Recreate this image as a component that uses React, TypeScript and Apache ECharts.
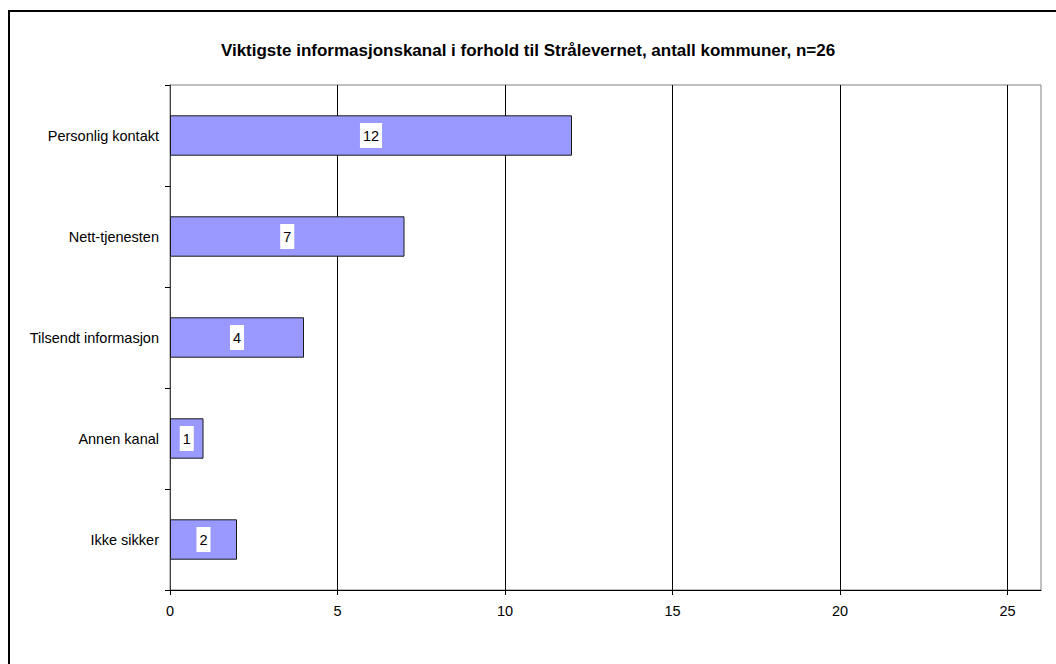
import React, { useEffect, useRef } from "react";
import * as echarts from "echarts";

const titleText = "Viktigste informasjonskanal i forhold til Strålevernet, antall kommuner, n=26";
const categories = ["Personlig kontakt", "Nett-tjenesten", "Tilsendt informasjon", "Annen kanal", "Ikke sikker"];
const values = [12, 7, 4, 1, 2];
const xTicks = [0, 5, 10, 15, 20, 25];

const FONT = "'Liberation Sans', Arial, sans-serif";

export default function App() {
  const ref = useRef<HTMLDivElement>(null);
  useEffect(() => {
    if (!ref.current) return;
    const chart = echarts.init(ref.current, undefined, { renderer: "svg" });
    chart.setOption({
      animation: false,
      backgroundColor: "#ffffff",
      textStyle: { fontFamily: FONT },
      title: {
        text: titleText,
        left: "center",
        top: 36,
        textStyle: { fontFamily: FONT, fontSize: 17, fontWeight: "bold", color: "#000", lineHeight: 18 },
      },
      graphic: [
        { type: "line", shape: { x1: 9, y1: 11, x2: 1060, y2: 11 }, style: { stroke: "#000", lineWidth: 2 } },
        { type: "line", shape: { x1: 9, y1: 10, x2: 9, y2: 670 }, style: { stroke: "#000", lineWidth: 2 } },
      ],
      grid: {
        left: 170,
        right: 15,
        top: 85,
        bottom: 74,
        show: true,
        borderColor: "#808080",
        borderWidth: 1,
        containLabel: false,
      },
      xAxis: {
        type: "value",
        min: 0,
        max: 26,
        interval: 5,
        axisLine: { show: true, lineStyle: { color: "#000", width: 1 } },
        axisTick: { show: true, length: 5, lineStyle: { color: "#000" }, customValues: xTicks },
        axisLabel: {
          color: "#000",
          fontSize: 14.5,
          fontFamily: FONT,
          margin: 13,
          customValues: xTicks,
        },
        splitLine: { show: true, showMinLine: false, lineStyle: { color: "#000", width: 1 } },
      },
      yAxis: {
        type: "category",
        data: categories,
        inverse: true,
        axisLine: { show: true, lineStyle: { color: "#404040", width: 1 } },
        axisTick: { show: true, length: 5, alignWithLabel: false, lineStyle: { color: "#000" } },
        axisLabel: { color: "#000", fontSize: 14.5, fontFamily: FONT, margin: 11 },
        splitLine: { show: false },
      },
      series: [
        {
          type: "bar",
          data: values,
          barWidth: "40%",
          itemStyle: { color: "#9999FF", borderColor: "#1a1a1a", borderWidth: 1 },
          label: {
            show: true,
            position: "inside",
            color: "#000",
            fontSize: 14.5,
            fontFamily: FONT,
            lineHeight: 15,
            backgroundColor: "#ffffff",
            padding: [5, 3],
          },
        },
      ],
    });
    return () => chart.dispose();
  }, []);
  return (
    <div
      ref={ref}
      style={{ position: "fixed", left: 0, top: 0, width: 1056, height: 664, background: "#fff" }}
    />
  );
}
